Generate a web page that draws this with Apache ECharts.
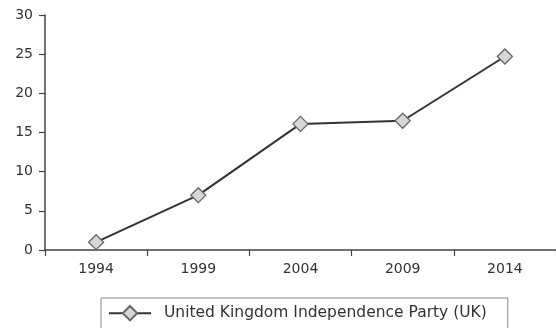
<!DOCTYPE html>
<html>
<head>
<meta charset="utf-8">
<script src="https://cdn.jsdelivr.net/npm/echarts@6/dist/echarts.min.js"></script>
<style>
html,body{margin:0;padding:0;background:#fff;}
#chart{width:556px;height:328px;}
</style>
</head>
<body>
<div id="chart"></div>
<script>
// Election years and vote share (%)
const years = ['1994', '1999', '2004', '2009', '2014'];
const ukipShare = [1.0, 7.0, 16.1, 16.5, 24.7];
const seriesName = 'United Kingdom Independence Party (UK)';
const yTicks = [0, 5, 10, 15, 20, 25, 30];

const diamond = 'path://M0,5L5,0L10,5L5,10Z';
const chart = echarts.init(document.getElementById('chart'), null, {renderer: 'canvas'});
const textStyle = {color: '#333', fontFamily: 'DejaVu Sans, sans-serif', fontSize: 14};

chart.setOption({
  animation: false,
  backgroundColor: '#fff',
  grid: {left: 45, top: 15, width: 514, height: 235, containLabel: false},
  legend: {
    show: true,
    data: [seriesName],
    left: 101, top: 298,
    padding: [7, 21, 12, 7],
    itemGap: 0,
    borderColor: '#888', borderWidth: 1,
    itemWidth: 42, itemHeight: 18,
    textStyle: Object.assign({}, textStyle, {fontSize: 15.5, padding: [0, 0, 0, 8]})
  },
  xAxis: {
    type: 'category',
    data: years,
    boundaryGap: true,
    axisLine: {lineStyle: {color: '#444', width: 1.5}},
    axisTick: {show: true, length: 6, lineStyle: {color: '#444', width: 1.2}, alignWithLabel: false},
    axisLabel: Object.assign({margin: 12}, textStyle),
    splitLine: {show: false}
  },
  yAxis: {
    type: 'value',
    min: yTicks[0], max: yTicks[yTicks.length - 1], interval: 5,
    axisLine: {show: true, lineStyle: {color: '#444', width: 1.5}},
    axisTick: {show: true, length: 6, lineStyle: {color: '#444', width: 1.2}},
    axisLabel: Object.assign({margin: 12}, textStyle),
    splitLine: {show: false}
  },
  series: [{
    name: seriesName,
    type: 'line',
    data: ukipShare,
    symbol: diamond,
    symbolSize: 15,
    showAllSymbol: true,
    lineStyle: {color: '#333', width: 2},
    itemStyle: {color: '#d6d6d6', borderColor: '#666', borderWidth: 1.3}
  }]
});
</script>
</body>
</html>
